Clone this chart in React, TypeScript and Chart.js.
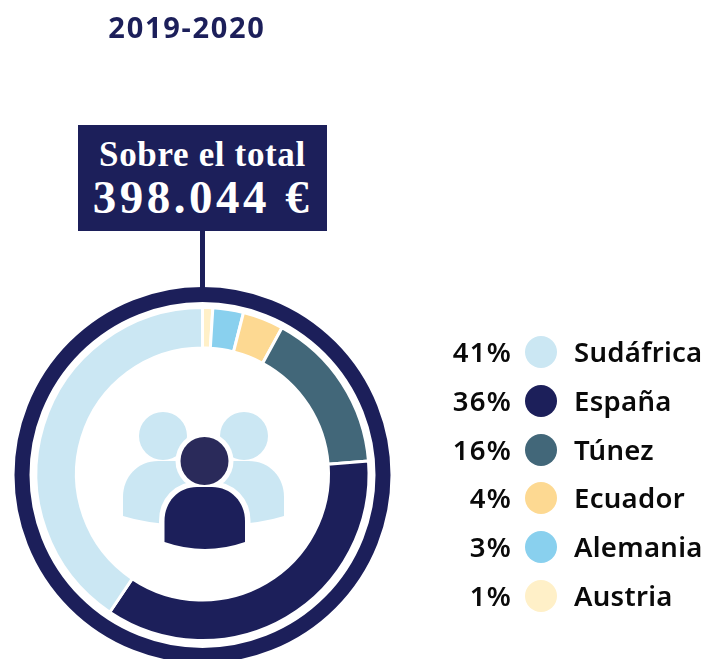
import React, { useEffect, useRef } from "react";
import { Chart, registerables, Plugin } from "chart.js";

Chart.register(...registerables);

const titleText = "2019-2020";
const boxLine1 = "Sobre el total";
const boxLine2 = "398.044 €";
const sliceLabels = ["Austria", "Alemania", "Ecuador", "Túnez", "España", "Sudáfrica"];
const sliceValues = [1, 3, 4, 16, 36, 41];
const sliceColors = ["#fff0c8", "#89d0ee", "#fdd992", "#426779", "#1c1f5a", "#cbe7f3"];

const NAVY = "#1c1f5a";
const legendOrder = [5, 4, 3, 2, 1, 0];

const decorPlugin: Plugin<"doughnut"> = {
  id: "decor",
  beforeDatasetsDraw(chart) {
    const { ctx } = chart;
    const arc = chart.getDatasetMeta(0).data[0] as any;
    const cx = arc.x;
    const cy = arc.y;
    ctx.save();
    // outer ring
    ctx.strokeStyle = NAVY;
    ctx.lineWidth = 15;
    ctx.beginPath();
    ctx.arc(cx, cy + 1, 180.5, 0, Math.PI * 2);
    ctx.stroke();
    // connector
    ctx.fillStyle = NAVY;
    ctx.fillRect(cx - 2.5, 231, 5, 60);

    // back people
    const back = "#cbe7f3";
    const drawBack = (sign: number) => {
      const ox = 203.5;
      const X = (d: number) => ox + sign * d;
      ctx.fillStyle = back;
      ctx.beginPath();
      ctx.arc(X(40.5), 436, 24, 0, Math.PI * 2);
      ctx.fill();
      ctx.beginPath();
      ctx.moveTo(X(80.5), 516);
      ctx.lineTo(X(80.5), 497);
      ctx.bezierCurveTo(X(80.5), 477, X(66), 461, X(45), 461);
      ctx.lineTo(X(0), 461);
      ctx.lineTo(X(0), 524);
      ctx.lineTo(X(30), 524);
      ctx.quadraticCurveTo(X(58), 523, X(80.5), 516);
      ctx.closePath();
      ctx.fill();
    };
    drawBack(-1);
    drawBack(1);

    // front person body
    const bodyPath = () => {
      ctx.beginPath();
      ctx.moveTo(164.5, 542);
      ctx.lineTo(164.5, 521);
      ctx.bezierCurveTo(164.5, 502, 178, 487, 197, 487);
      ctx.lineTo(212, 487);
      ctx.bezierCurveTo(231, 487, 245, 502, 245, 521);
      ctx.lineTo(245, 542);
      ctx.quadraticCurveTo(205, 556, 164.5, 542);
      ctx.closePath();
    };
    ctx.fillStyle = "#ffffff";
    ctx.strokeStyle = "#ffffff";
    ctx.lineWidth = 11;
    ctx.lineJoin = "round";
    bodyPath();
    ctx.stroke();
    ctx.beginPath();
    ctx.arc(204.5, 461, 29, 0, Math.PI * 2);
    ctx.fill();
    // clear the halo below the body
    ctx.fillRect(150, 544, 110, 14);
    ctx.fillStyle = NAVY;
    bodyPath();
    ctx.fill();
    ctx.fillStyle = "#2a2a5a";
    ctx.beginPath();
    ctx.arc(204.5, 461, 24, 0, Math.PI * 2);
    ctx.fill();
    ctx.restore();
  },
};

export default function App() {
  const ref = useRef<HTMLCanvasElement>(null);
  useEffect(() => {
    const chart = new Chart(ref.current!, {
      type: "doughnut",
      data: {
        labels: sliceLabels,
        datasets: [
          {
            data: sliceValues,
            backgroundColor: sliceColors,
            borderColor: "#ffffff",
            borderWidth: 3,
          },
        ],
      },
      options: {
        responsive: false,
        animation: false,
        radius: 166.5,
        cutout: "75.68%",
        layout: { padding: { left: 37.5, right: 340.5, top: 309, bottom: 20 } },
        plugins: { legend: { display: false }, tooltip: { enabled: false } },
      },
      plugins: [decorPlugin],
    });
    return () => chart.destroy();
  }, []);

  const sans = "'Noto Sans', sans-serif";
  const serif = "'Liberation Serif', serif";
  const abs: React.CSSProperties = { position: "absolute", whiteSpace: "nowrap" };

  return (
    <div style={{ position: "absolute", left: 0, top: 0, width: 708, height: 659, overflow: "hidden", background: "#fff" }}>
      <canvas ref={ref} width={708} height={659} style={{ position: "absolute", left: 0, top: 0, display: "block" }} />
      <div style={{ ...abs, left: 87, width: 200, top: 7, lineHeight: "40px", textAlign: "center", fontFamily: sans, fontWeight: 700, fontSize: 29, letterSpacing: 1.7, color: NAVY }}>
        {titleText}
      </div>
      <div style={{ ...abs, left: 78, top: 125, width: 249, height: 106, background: NAVY, color: "#fff", textAlign: "center", fontFamily: serif, fontWeight: 700 }}>
        <div style={{ position: "absolute", left: 0, right: 0, top: 10, lineHeight: "40px", fontSize: 35, letterSpacing: 0.65 }}>{boxLine1}</div>
        <div style={{ position: "absolute", left: 0, right: 0, top: 47, lineHeight: "50px", fontSize: 47, letterSpacing: 3.5 }}>{boxLine2}</div>
      </div>
      {legendOrder.map((idx, i) => {
        const y = 352 + i * 48.8;
        return (
          <React.Fragment key={sliceLabels[idx]}>
            <div style={{ ...abs, right: 708 - 512, top: y - 20, lineHeight: "40px", fontFamily: sans, fontWeight: 600, fontSize: 27.5, letterSpacing: 1.2, color: "#0a0a0a" }}>
              {sliceValues[idx]}%
            </div>
            <div style={{ position: "absolute", left: 525, top: y - 16, width: 32, height: 32, borderRadius: "50%", background: sliceColors[idx] }} />
            <div style={{ ...abs, left: 574, top: y - 20, lineHeight: "40px", fontFamily: sans, fontWeight: 600, fontSize: 27.5, letterSpacing: 0.3, color: "#0a0a0a" }}>
              {sliceLabels[idx]}
            </div>
          </React.Fragment>
        );
      })}
    </div>
  );
}
